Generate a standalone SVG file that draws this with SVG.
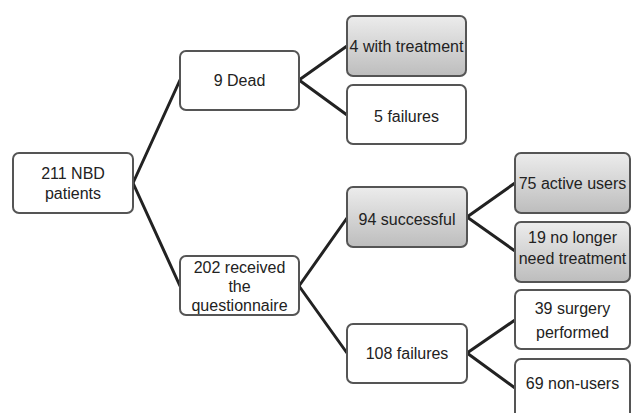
<svg xmlns="http://www.w3.org/2000/svg" width="632" height="413" viewBox="0 0 632 413">
<defs>
<linearGradient id="g" x1="0" y1="0" x2="0" y2="1">
<stop offset="0" stop-color="#ececec"/>
<stop offset="1" stop-color="#bdbdbd"/>
</linearGradient>
<style>
.b{fill:#fff;stroke:#555;stroke-width:2}
.s{fill:url(#g);stroke:#555;stroke-width:2}
text{font-family:"Liberation Sans",Arial,sans-serif;font-size:16px;fill:#222;text-anchor:middle}
.c line{stroke:#222;stroke-width:3;stroke-linecap:round}
</style>
</defs>
<rect width="632" height="413" fill="#fff"/>
<g class="c" id="connectors">
<line x1="133" y1="183" x2="180" y2="80"/>
<line x1="133" y1="183" x2="180" y2="286"/>
<line x1="299" y1="80" x2="347" y2="46"/>
<line x1="299" y1="80" x2="347" y2="115"/>
<line x1="299" y1="286" x2="347" y2="218"/>
<line x1="299" y1="286" x2="347" y2="353"/>
<line x1="467" y1="217" x2="515" y2="183"/>
<line x1="467" y1="217" x2="515" y2="251"/>
<line x1="467" y1="353" x2="515" y2="320"/>
<line x1="467" y1="353" x2="515" y2="388"/>
</g>
<g id="root"><rect class="b" x="13" y="153" width="120" height="60" rx="6"/><text x="73" y="179">211 NBD</text><text x="73" y="199">patients</text></g>
<g id="dead"><rect class="b" x="180" y="51" width="119" height="59" rx="6"/><text x="239.5" y="86">9 Dead</text></g>
<g id="received"><rect class="b" x="180" y="256" width="119" height="59" rx="6"/><text x="239.5" y="273">202 received</text><text x="239.5" y="292">the</text><text x="239.5" y="311">questionnaire</text></g>
<g id="withtreatment"><rect class="s" x="347" y="16" width="119" height="60" rx="6"/><text x="406.5" y="52">4 with treatment</text></g>
<g id="deadfailures"><rect class="b" x="347" y="85" width="119" height="59" rx="6"/><text x="406.5" y="122">5 failures</text></g>
<g id="successful"><rect class="s" x="347" y="187" width="120" height="60" rx="6"/><text x="407" y="225">94 successful</text></g>
<g id="failures"><rect class="b" x="347" y="324" width="120" height="59" rx="6"/><text x="407" y="359">108 failures</text></g>
<g id="active"><rect class="s" x="515" y="153" width="115" height="60" rx="6"/><text x="572.5" y="189">75 active users</text></g>
<g id="nolonger"><rect class="s" x="515" y="222" width="115" height="60" rx="6"/><text x="572.5" y="243">19 no longer</text><text x="572.5" y="264">need treatment</text></g>
<g id="surgery"><rect class="b" x="515" y="290" width="115" height="59" rx="6"/><text x="572.5" y="314">39 surgery</text><text x="572.5" y="338">performed</text></g>
<g id="nonusers"><rect class="b" x="515" y="359" width="115" height="60" rx="6"/><text x="572.5" y="389">69 non-users</text></g>
</svg>
